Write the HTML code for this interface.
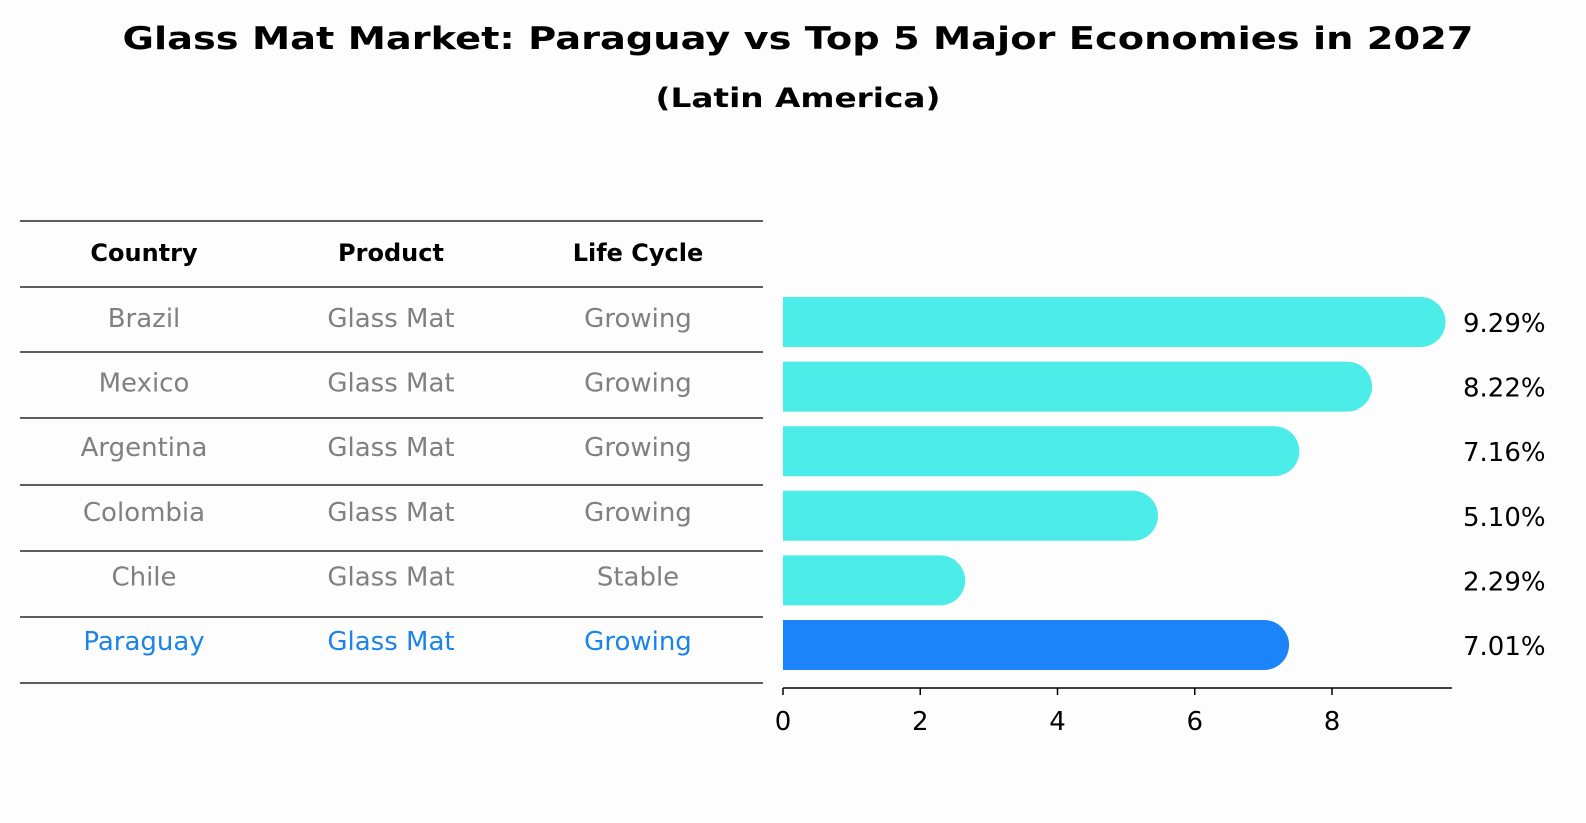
<!DOCTYPE html>
<html><head><meta charset="utf-8"><style>
html,body{margin:0;padding:0;background:#fdfdfd;overflow:hidden;width:1586px;height:823px;}
svg{display:block;}
svg text{font-family:"DejaVu Sans","Liberation Sans",sans-serif;}
</style></head><body>
<svg id="c" width="1586" height="823" xmlns="http://www.w3.org/2000/svg">
<rect width="1586" height="823" fill="#fdfdfd"/>
<text x="798" y="49" text-anchor="middle" font-size="31" font-weight="bold" textLength="1351" lengthAdjust="spacingAndGlyphs">Glass Mat Market: Paraguay vs Top 5 Major Economies in 2027</text>
<text x="798" y="107" text-anchor="middle" font-size="27" font-weight="bold" textLength="285" lengthAdjust="spacingAndGlyphs">(Latin America)</text>
<g id="tbl"></g>
<g id="bars"></g>
</svg>
<script>
const countries=["Brazil","Mexico","Argentina","Colombia","Chile","Paraguay"];
const products=["Glass Mat","Glass Mat","Glass Mat","Glass Mat","Glass Mat","Glass Mat"];
const cycles=["Growing","Growing","Growing","Growing","Stable","Growing"];
const values=[9.29,8.22,7.16,5.10,2.29,7.01];
const ticks=[0,2,4,6,8];
const NS="http://www.w3.org/2000/svg";
function mk(t,a,p){const e=document.createElementNS(NS,t);for(const k in a)e.setAttribute(k,a[k]);p.appendChild(e);return e;}
const tbl=document.getElementById('tbl'),bars=document.getElementById('bars');
const x=v=>783+v*68.625;
const rowY=i=>322+i*64.6;
const lineYs=[221,287,352,418,485,551,617,683];
lineYs.forEach(y=>{const l=mk('line',{x1:20,x2:763,y1:y,y2:y,stroke:'#000','stroke-width':1.2},tbl);

});
const colX=[144,391,638];
["Country","Product","Life Cycle"].forEach((h,j)=>{const t=mk('text',{x:colX[j],y:261,'text-anchor':'middle','font-size':24,'font-weight':'bold'},tbl);t.textContent=h;

});
countries.forEach((c,i)=>{
 const col=i===5?'#1a84e8':'#808080';
 [c,products[i],cycles[i]].forEach((s,j)=>{const t=mk('text',{x:colX[j],y:rowY(i)+5,'text-anchor':'middle','font-size':26,fill:col},tbl);t.textContent=s;
 
 });
 const y=rowY(i),h=50,r=25,x0=783,x1=x(values[i]);
 const p=mk('path',{d:`M${x0},${y-h/2}H${x1}A${r},${r} 0 0 1 ${x1},${y+h/2}H${x0}Z`,fill:i===5?'#1a84f8':'#4cede8'},bars);
 
 
 const t=mk('text',{x:1463,y:y+10,'font-size':26},bars);t.textContent=values[i].toFixed(2)+'%';
 
 
});
const ax=mk('line',{x1:783,x2:1452,y1:688,y2:688,stroke:'#000','stroke-width':1.5},bars);


ticks.forEach(v=>{const l=mk('line',{x1:x(v),x2:x(v),y1:688,y2:695,stroke:'#000','stroke-width':1.5},bars);


const t=mk('text',{x:x(v),y:730,'text-anchor':'middle','font-size':26},bars);t.textContent=v;

});
</script>
</body></html>
